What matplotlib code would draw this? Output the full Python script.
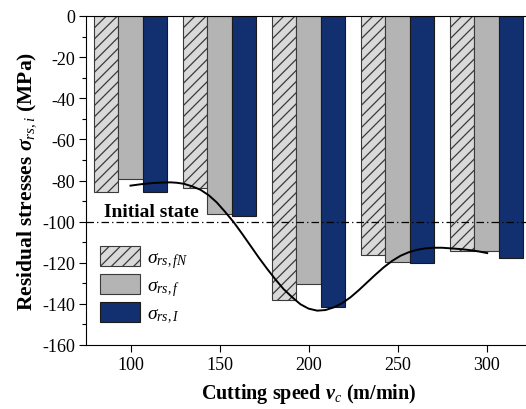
import matplotlib
matplotlib.use("Agg")
import matplotlib.pyplot as plt
import numpy as np

plt.rcParams['font.family'] = ['Liberation Serif', 'DejaVu Serif']
plt.rcParams['mathtext.fontset'] = 'custom'
plt.rcParams['mathtext.rm'] = 'Liberation Serif'
plt.rcParams['mathtext.it'] = 'Liberation Serif:italic'
plt.rcParams['mathtext.bf'] = 'Liberation Serif:bold:italic'
plt.rcParams['axes.unicode_minus'] = False
plt.rcParams['hatch.linewidth'] = 0.9

speeds = [100, 150, 200, 250, 300]
sigma_fN = [-85.4, -83.7, -138.1, -116.4, -114.3]
sigma_f = [-79.3, -96.3, -130.3, -119.5, -114.3]
sigma_I = [-85.4, -97.1, -141.5, -120.1, -117.9]

# trend line
curve_x = [100, 106, 113, 118, 122.5, 126, 130, 134.5, 139.3, 144, 148.4, 153, 158, 162.7, 167.4,
           172, 176.8, 181.5, 186, 191, 195.5, 200, 204.9, 209.5, 214.2, 219, 223.6, 228.3, 233,
           237.6, 242.3, 247, 251.7, 256.3, 261, 265.7, 270.4, 275, 279.8, 284.5, 289.2, 295, 300.4]
curve_y = [-82.5, -81.8, -81.2, -81.0, -80.9, -81.1, -81.6, -82.8, -84.5, -87.2, -90.6, -95.1, -100.3,
           -105.9, -111.7, -117.4, -123, -128.2, -132.8, -136.9, -140.2, -142.3, -143.3, -143.0, -141.7,
           -139.6, -136.8, -133.3, -129.5, -125.8, -122.2, -119.1, -116.6, -114.9, -113.7, -113.0, -112.7,
           -112.7, -113, -113.3, -113.7, -114.4, -115.3]

initial_state = -100

fig = plt.figure(figsize=(5.26, 4.10), dpi=100)
ax = fig.add_axes([86/526, 64/410, 445/526, 329/410])

w = 13.5
x = np.array(speeds)
ax.bar(x - w, sigma_fN, w, color='#d9d9d9', edgecolor='#3a3a3a', hatch='///', linewidth=0.8,
       label=r'$\sigma_{rs,fN}$')
ax.bar(x, sigma_f, w, color='#b4b4b4', edgecolor='#3a3a3a', linewidth=0.8, label=r'$\sigma_{rs,f}$')
ax.bar(x + w, sigma_I, w, color='#12306f', edgecolor='#1a1a1a', linewidth=0.8, label=r'$\sigma_{rs,I}$')

ax.axhline(initial_state, color='black', linestyle=(0, (6, 2.5, 1, 2.5)), linewidth=0.9)
ax.text(85, -97.5, 'Initial state', fontsize=14, fontweight='bold')

ax.plot(curve_x, curve_y, color='black', linewidth=1.4, solid_joinstyle='round')

ax.set_xlim(75, 325)
ax.set_ylim(-160, 0)
ax.set_xticks(speeds)
ax.set_yticks(range(-160, 1, 20))
ax.set_yticks(range(-150, 0, 20), minor=True)
ax.tick_params(axis='both', labelsize=13, direction='out', length=5, width=0.8, pad=3)
ax.tick_params(axis='y', which='minor', length=3, width=0.8)
ax.spines['right'].set_visible(False)

ax.set_xlabel(r'Cutting speed $\mathbf{v}_{\mathit{c}}$ (m/min)', fontsize=14.5, fontweight='bold', labelpad=6)
ax.set_ylabel(r'Residual stresses $\mathbf{\sigma}_{\mathit{rs,i}}$ (MPa)', fontsize=15.5, fontweight='bold',
              labelpad=3)

ax.legend(loc='upper left', bbox_to_anchor=(0.01, 0.33), frameon=False, fontsize=14,
          handlelength=2.05, handleheight=1.2, labelspacing=0.2, handletextpad=0.35, borderpad=0)

fig.savefig('out.png', dpi=100)
